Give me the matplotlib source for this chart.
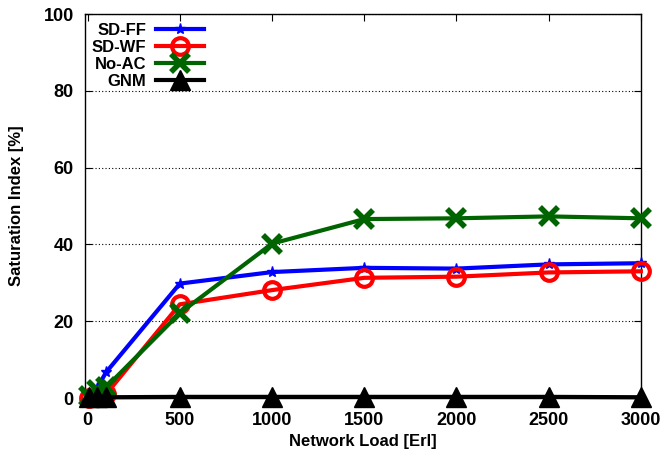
import matplotlib
matplotlib.use("Agg")
import matplotlib.pyplot as plt

plt.rcParams["font.family"] = ["Liberation Sans", "DejaVu Sans"]
plt.rcParams["font.weight"] = "bold"

load = [10, 50, 100, 500, 1000, 1500, 2000, 2500, 3000]
sd_ff = [0.5, 2.5, 6.7, 29.8, 32.8, 33.9, 33.7, 34.8, 35.1]
sd_wf = [0.0, 0.3, 1.0, 24.4, 28.1, 31.3, 31.6, 32.7, 33.0]
no_ac = [0.5, 2.0, 2.8, 22.1, 40.2, 46.6, 46.8, 47.3, 46.8]
gnm = [0.2, 0.2, 0.2, 0.3, 0.3, 0.3, 0.3, 0.3, 0.2]

fig = plt.figure(figsize=(6.63, 4.51), dpi=100)
ax = fig.add_axes([0.128, 0.1175, 0.8386, 0.8514])

ax.plot(load, sd_ff, color="#0000ff", lw=3, marker="*", ms=8, label="SD-FF", clip_on=False, zorder=3)
ax.plot(load, sd_wf, color="#ff0000", lw=3, marker="o", ms=12, mfc="none", mew=3, label="SD-WF", clip_on=False, zorder=3)
ax.plot(load, no_ac, color="#006400", lw=3, marker="x", ms=13, mew=4, label="No-AC", clip_on=False, zorder=3)
ax.plot(load, gnm, color="black", lw=3, marker="^", ms=14, label="GNM", clip_on=False, zorder=4)

ax.set_xlim(-15, 3000)
ax.set_ylim(0, 100)
ax.set_xticks([0, 500, 1000, 1500, 2000, 2500, 3000])
ax.set_yticks([0, 20, 40, 60, 80, 100])
ax.tick_params(direction="in", top=True, right=True, labelsize=13, length=5)
ax.tick_params(axis="x", pad=10)
ax.tick_params(axis="y", pad=8)
for lab in ax.get_xticklabels() + ax.get_yticklabels():
    lab.set_fontweight("bold")
ax.yaxis.grid(True, linestyle=(0, (1, 2)), color="black", lw=0.8)
for s in ax.spines.values():
    s.set_linewidth(1.0)

ax.set_xlabel("Network Load [Erl]", fontsize=12, fontweight="bold", labelpad=4)
ax.set_ylabel("Saturation Index [%]", fontsize=12, fontweight="bold", labelpad=14)

leg = ax.legend(loc="upper left", markerfirst=False, frameon=False, fontsize=12,
                handlelength=2.9, handletextpad=0.6, labelspacing=0.12,
                borderaxespad=0.0, bbox_to_anchor=(0.0, 0.995), alignment="right")
for t in leg.get_texts():
    t.set_fontweight("bold")

fig.savefig("out.png", dpi=100)
